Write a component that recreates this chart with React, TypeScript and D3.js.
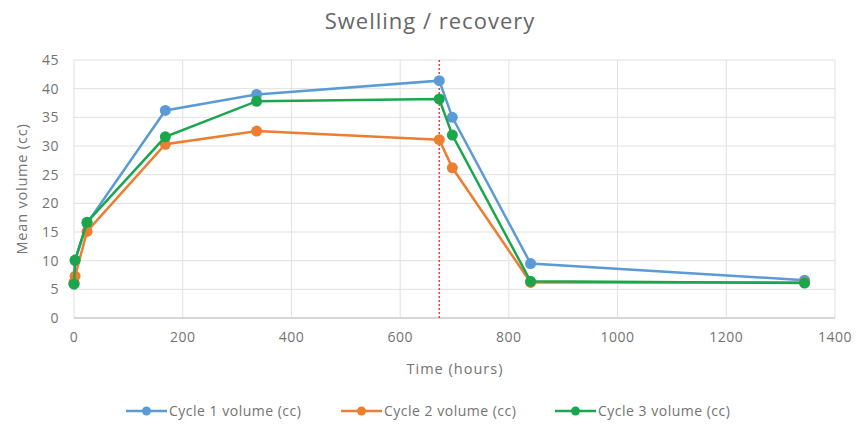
import React from "react";
import * as d3 from "d3";

const times = [0, 2, 24, 168, 336, 672, 696, 840, 1344];
const cycle1 = [6.0, 10.0, 16.5, 36.2, 39.0, 41.4, 35.0, 9.5, 6.6];
const cycle2 = [6.2, 7.3, 15.1, 30.3, 32.6, 31.1, 26.2, 6.2, 6.2];
const cycle3 = [5.9, 10.1, 16.7, 31.6, 37.8, 38.2, 31.9, 6.4, 6.1];
const seriesNames = ["Cycle 1 volume (cc)", "Cycle 2 volume (cc)", "Cycle 3 volume (cc)"];
const seriesColors = ["#5b9bd5", "#ed7d31", "#1aa64c"];
const xTicks = [0, 200, 400, 600, 800, 1000, 1200, 1400];
const yTicks = [0, 5, 10, 15, 20, 25, 30, 35, 40, 45];
const markerTime = 672;

const W = 856;
const H = 434;
const font = "'Open Sans', sans-serif";

export default function App() {
  const x = d3.scaleLinear().domain([0, 1400]).range([74, 835]);
  const y = d3.scaleLinear().domain([0, 45]).range([318, 60]);
  const line = d3
    .line<number>()
    .x((_, i) => x(times[i]))
    .y((d) => y(d));
  const allSeries = [cycle1, cycle2, cycle3];
  const legendX = [126, 341, 555];
  const textColor = "#737373";

  return (
    <svg
      width={W}
      height={H}
      style={{ position: "absolute", left: 0, top: 0, background: "#fff" }}
      fontFamily={font}
    >
      <rect x={0} y={0} width={W} height={H} fill="#fff" />
      <text x={430} y={29} textAnchor="middle" fontSize={22} letterSpacing={1} fill="#666666">
        Swelling / recovery
      </text>
      {yTicks.map((t) => (
        <line key={"hy" + t} x1={x(0)} x2={x(1400)} y1={y(t)} y2={y(t)} stroke="#e0e0e0" strokeWidth={1} />
      ))}
      {xTicks.map((t) => (
        <line key={"vx" + t} x1={x(t)} x2={x(t)} y1={y(45)} y2={y(0)} stroke="#e0e0e0" strokeWidth={1} />
      ))}
      <line x1={x(0)} x2={x(1400)} y1={y(0)} y2={y(0)} stroke="#bfbfbf" strokeWidth={1} />
      {yTicks.map((t) => (
        <text key={"ty" + t} x={59} y={y(t) + 5} textAnchor="end" fontSize={14} letterSpacing={0.5} fill={textColor}>
          {t}
        </text>
      ))}
      {xTicks.map((t) => (
        <text key={"tx" + t} x={x(t)} y={y(0) + 24} textAnchor="middle" fontSize={14} letterSpacing={0.5} fill={textColor}>
          {t}
        </text>
      ))}
      <text
        transform={`translate(27, ${y(22.5)}) rotate(-90)`}
        textAnchor="middle"
        fontSize={14.5}
        letterSpacing={0.8}
        fill={textColor}
      >
        Mean volume (cc)
      </text>
      <text x={455} y={374} textAnchor="middle" fontSize={14.5} letterSpacing={1} fill={textColor}>
        Time (hours)
      </text>
      <line
        x1={x(markerTime)}
        x2={x(markerTime)}
        y1={y(45)}
        y2={y(0)}
        stroke="#f03c3c"
        strokeWidth={1.5}
        strokeDasharray="2,2"
      />
      {allSeries.map((s, si) => (
        <g key={"s" + si}>
          <path d={line(s) || ""} fill="none" stroke={seriesColors[si]} strokeWidth={2.5} />
          {s.map((v, i) => (
            <circle key={i} cx={x(times[i])} cy={y(v)} r={5.5} fill={seriesColors[si]} />
          ))}
        </g>
      ))}
      {seriesNames.map((n, i) => (
        <g key={"l" + i}>
          <line x1={legendX[i]} x2={legendX[i] + 41} y1={411} y2={411} stroke={seriesColors[i]} strokeWidth={2.5} />
          <circle cx={legendX[i] + 20.5} cy={411} r={4.5} fill={seriesColors[i]} />
          <text x={legendX[i] + 43} y={416} fontSize={14} letterSpacing={0.5} fill={textColor}>
            {n}
          </text>
        </g>
      ))}
    </svg>
  );
}
